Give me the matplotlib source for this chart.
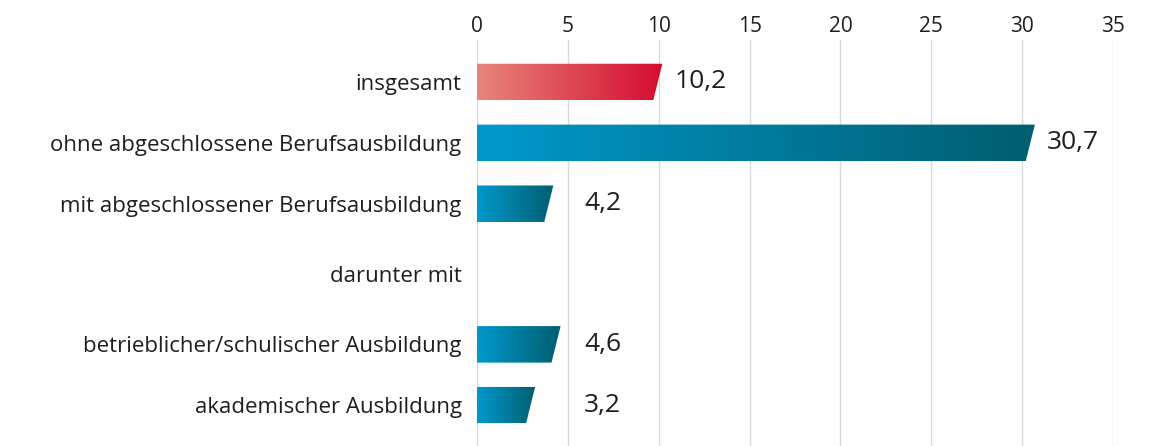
import numpy as np
import matplotlib
matplotlib.use("Agg")
from matplotlib import pyplot as plt
from matplotlib.patches import Polygon
from matplotlib.colors import LinearSegmentedColormap

# data
categories = ["insgesamt",
              "ohne abgeschlossene Berufsausbildung",
              "mit abgeschlossener Berufsausbildung",
              "darunter mit",
              "betrieblicher/schulischer Ausbildung",
              "akademischer Ausbildung"]
values = [10.2, 30.7, 4.2, None, 4.6, 3.2]
value_labels = ["10,2", "30,7", "4,2", "", "4,6", "3,2"]
xticks = [0, 5, 10, 15, 20, 25, 30, 35]

# layout
ypos = [0, 1, 2, 3.15, 4.31, 5.31]
bar_h = 0.6
slant = 0.5

red_cm = LinearSegmentedColormap.from_list("r", ["#e8857c", "#d50c30"])
blue_cm = LinearSegmentedColormap.from_list("b", ["#0099cc", "#005e70"])

plt.rcParams['font.family'] = ['Open Sans', 'DejaVu Sans']

fig = plt.figure(figsize=(11.5, 4.46), dpi=100)
ax = fig.add_axes([477/1150, 0, 636/1150, 406/446])
ax.set_xlim(0, 35)
ax.set_ylim(5.98, -0.69)

grad = np.linspace(0, 1, 256).reshape(1, -1)
for i, v in enumerate(values):
    if v is None:
        continue
    y = ypos[i]
    cm = red_cm if i == 0 else blue_cm
    top, bot = y - bar_h/2, y + bar_h/2
    poly = Polygon([(0, top), (v, top), (v - slant, bot), (0, bot)],
                   closed=True, facecolor='none', edgecolor='none')
    ax.add_patch(poly)
    im = ax.imshow(grad, cmap=cm, aspect='auto', extent=(0, v, bot, top),
                   interpolation='bilinear', zorder=2)
    im.set_clip_path(poly)
    ax.text(max(v + 0.65, 5.9), y, value_labels[i], ha='left', va='center',
            fontsize=19, color='#1e1e1e')

ax.set_xlim(0, 35)
ax.set_ylim(5.98, -0.69)
ax.set_xticks(xticks)
ax.xaxis.tick_top()
ax.tick_params(axis='x', length=0, pad=2, labelsize=15, labelcolor='#1e1e1e')
ax.set_yticks(ypos)
ax.set_yticklabels(categories)
ax.tick_params(axis='y', length=0, pad=11, labelsize=16, labelcolor='#1e1e1e')
ax.grid(axis='x', color='#d5dcdc', linewidth=1, zorder=0)
ax.set_axisbelow(True)
for s in ax.spines.values():
    s.set_visible(False)

fig.savefig("out.png", dpi=100)
